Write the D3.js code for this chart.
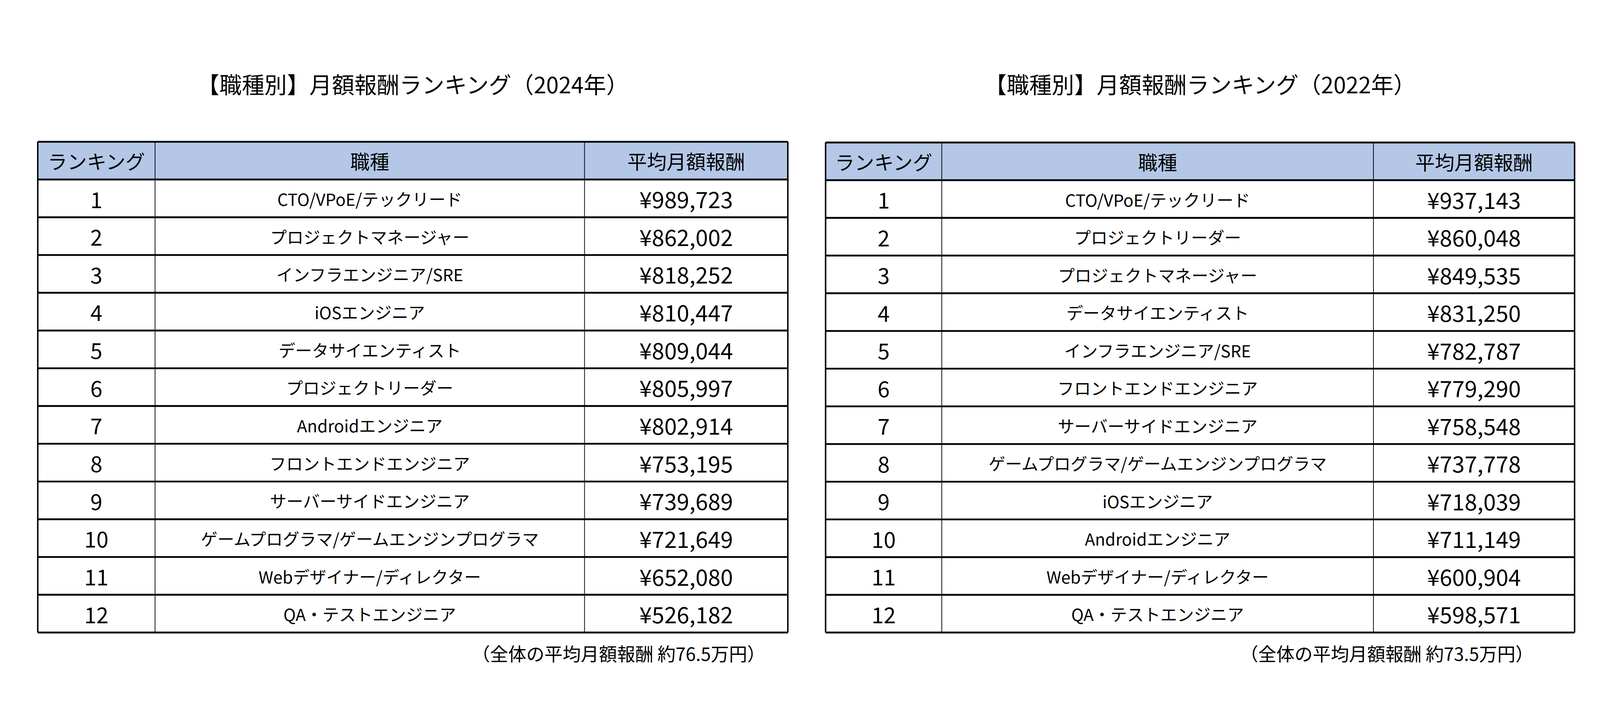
<!DOCTYPE html>
<html><head><meta charset="utf-8">
<script src="https://cdn.jsdelivr.net/npm/d3@7"></script>
<style>html,body{margin:0;background:#fff;overflow:hidden}svg{display:block;width:100vw;height:100vh}text{font-family:"Noto Sans CJK JP",sans-serif;fill:#000}</style>
</head><body><svg id="c" viewBox="0 0 4407 1859" preserveAspectRatio="xMidYMid meet"></svg>
<script>
var headers = ["ランキング", "職種", "平均月額報酬"];
var jobs2024 = ["CTO/VPoE/テックリード","プロジェクトマネージャー","インフラエンジニア/SRE","iOSエンジニア","データサイエンティスト","プロジェクトリーダー","Androidエンジニア","フロントエンドエンジニア","サーバーサイドエンジニア","ゲームプログラマ/ゲームエンジンプログラマ","Webデザイナー/ディレクター","QA・テストエンジニア"];
var pay2024 = [989723,862002,818252,810447,809044,805997,802914,753195,739689,721649,652080,526182];
var jobs2022 = ["CTO/VPoE/テックリード","プロジェクトリーダー","プロジェクトマネージャー","データサイエンティスト","インフラエンジニア/SRE","フロントエンドエンジニア","サーバーサイドエンジニア","ゲームプログラマ/ゲームエンジンプログラマ","iOSエンジニア","Androidエンジニア","Webデザイナー/ディレクター","QA・テストエンジニア"];
var pay2022 = [937143,860048,849535,831250,782787,779290,758548,737778,718039,711149,600904,598571];

var svg = d3.select("#c");
var fmt = d3.format(",");

function drawTable(title, note, jobs, pay, x0, x1, c1, c2, top, noteX) {
  var g = svg.append("g");
  var n = jobs.length;
  var y = d3.scaleLinear().domain([0, n + 1]).range([top, 1672]);
  var cols = [x0, c1, c2, x1];
  g.append("text").attr("x", (x0 + x1) / 2).attr("y", 160).attr("text-anchor", "middle")
    .attr("dominant-baseline", "central").attr("font-size", 62).text(title);
  g.append("rect").attr("x", x0).attr("y", y(0)).attr("width", x1 - x0).attr("height", y(1) - y(0)).attr("fill", "#b4c7e7");
  headers.forEach(function(h, i) {
    g.append("text").attr("x", (cols[i] + cols[i + 1]) / 2).attr("y", (y(0) + y(1)) / 2)
      .attr("text-anchor", "middle").attr("dominant-baseline", "central").attr("font-size", 54).text(h);
  });
  var rows = g.selectAll("g.r").data(jobs).enter().append("g")
    .attr("transform", function(d, i) { return "translate(0," + (y(i + 1) + y(i + 2)) / 2 + ")"; });
  rows.append("text").attr("x", (cols[0] + cols[1]) / 2).attr("text-anchor", "middle").attr("dominant-baseline", "central")
    .attr("font-size", 60).text(function(d, i) { return i + 1; });
  rows.append("text").attr("x", (cols[1] + cols[2]) / 2).attr("text-anchor", "middle").attr("dominant-baseline", "central")
    .attr("font-size", 46).text(function(d) { return d; });
  rows.append("text").attr("x", (cols[2] + cols[3]) / 2).attr("text-anchor", "middle").attr("dominant-baseline", "central")
    .attr("font-size", 62).text(function(d, i) { return "¥" + fmt(pay[i]); });
  g.selectAll("line.h").data(d3.range(n + 2)).enter().append("line")
    .attr("x1", x0).attr("x2", x1).attr("y1", y).attr("y2", y)
    .attr("stroke", "#000").attr("stroke-width", 5);
  g.selectAll("line.v").data(cols).enter().append("line")
    .attr("x1", function(d) { return d; }).attr("x2", function(d) { return d; })
    .attr("y1", y(0)).attr("y2", y(n + 1))
    .attr("stroke", "#000").attr("stroke-width", function(d, i) { return (i == 0 || i == 3) ? 4 : 2; });
  g.append("text").attr("x", noteX).attr("y", 1728).attr("text-anchor", "end").attr("dominant-baseline", "central")
    .attr("font-size", 50).text(note);
}

drawTable("【職種別】月額報酬ランキング（2024年）", "（全体の平均月額報酬 約76.5万円）", jobs2024, pay2024, 104, 2170, 427, 1610, 320, 2108);
drawTable("【職種別】月額報酬ランキング（2022年）", "（全体の平均月額報酬 約73.5万円）", jobs2022, pay2022, 2274, 4337, 2594, 3783, 322, 4224);
</script></body></html>
